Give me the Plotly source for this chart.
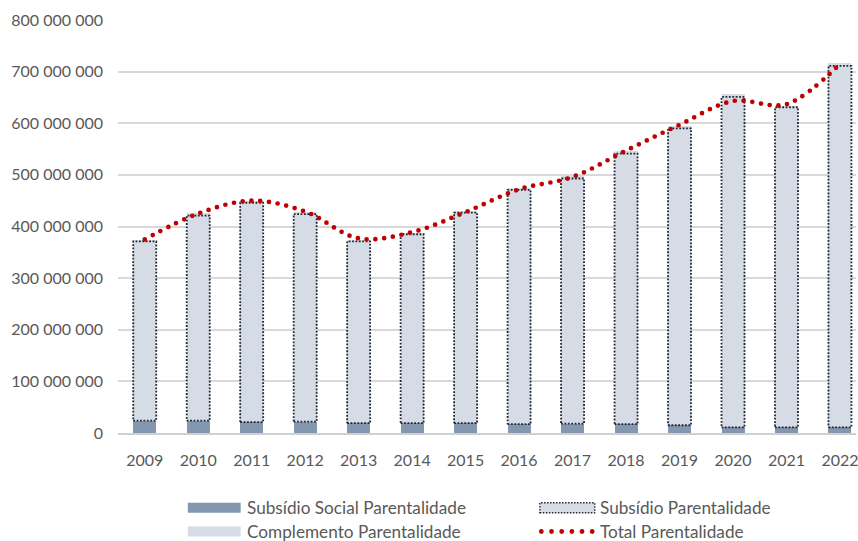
import plotly.graph_objects as go

years = [2009, 2010, 2011, 2012, 2013, 2014, 2015, 2016, 2017, 2018, 2019, 2020, 2021, 2022]
# values in millions of euros
social_m = [24, 24, 21, 22, 19, 19, 19, 17, 18, 17, 15, 11, 11, 11]
subsidio_m = [347, 397, 425, 402, 352, 366, 408, 454, 475, 524, 575, 640, 620, 700]
complemento_m = [2, 5, 4, 4, 3, 3, 4, 4, 5, 6, 5, 6, 3, 5]
total_m = [375, 425, 450, 429, 377, 389, 428, 472, 496, 547, 597, 643, 637, 715]

names = ["Subsídio Social Parentalidade", "Subsídio Parentalidade",
         "Complemento Parentalidade", "Total Parentalidade"]
ytick_vals = [0, 100, 200, 300, 400, 500, 600, 700, 800]

M = 1e6
social = [v * M for v in social_m]
subsidio = [v * M for v in subsidio_m]
complemento = [v * M for v in complemento_m]
total = [v * M for v in total_m]

C_SOCIAL = "#8497B0"
C_LIGHT = "#D6DCE5"
C_BORDER = "#1F2733"
C_RED = "#C00000"
C_TEXT = "#595959"
FONT = "Lato"
BW = 0.43

fig = go.Figure()
fig.add_trace(go.Bar(x=years, y=social, name=names[0], marker=dict(color=C_SOCIAL, line=dict(width=0)), width=BW))
fig.add_trace(go.Bar(x=years, y=subsidio, name=names[1], marker=dict(color=C_LIGHT, line=dict(width=0)), width=BW))
fig.add_trace(go.Bar(x=years, y=complemento, name=names[2], marker=dict(color=C_LIGHT, line=dict(width=0)), width=BW))

# dotted outline of the "Subsídio Parentalidade" segments
ox, oy = [], []
for yr, s, v in zip(years, social, subsidio):
    x0, x1 = yr - BW / 2, yr + BW / 2
    ox += [x0, x1, x1, x0, x0, None]
    oy += [s, s, s + v, s + v, s, None]
fig.add_trace(go.Scatter(x=ox, y=oy, mode="lines", line=dict(color=C_BORDER, width=1.8, dash="1.8px,1.6px"),
                         hoverinfo="skip", showlegend=False))

fig.add_trace(go.Scatter(x=years, y=total, name=names[3], mode="lines",
                         line=dict(color=C_RED, width=4.7, dash="0px,8.8px", shape="spline", smoothing=1.0)))

W, H = 858, 541
L, R, T, B = 118, 0, 20, 108
PW, PH = W - L - R, H - T - B


def px(xp):
    return (xp - L) / PW


def py(yp):
    return (H - B - yp) / PH


shapes = []
annotations = []
# manual legend
ROW1, ROW2 = 507.8, 531.5
shapes.append(dict(type="rect", xref="paper", yref="paper", x0=px(188), x1=px(241), y0=py(ROW1 + 5), y1=py(ROW1 - 5),
                   fillcolor=C_SOCIAL, line=dict(width=0)))
shapes.append(dict(type="rect", xref="paper", yref="paper", x0=px(541), x1=px(596), y0=py(ROW1 + 5), y1=py(ROW1 - 5),
                   fillcolor=C_LIGHT, line=dict(width=1.4, color=C_BORDER, dash="1.5px,1.5px")))
shapes.append(dict(type="rect", xref="paper", yref="paper", x0=px(188), x1=px(241), y0=py(ROW2 + 5), y1=py(ROW2 - 5),
                   fillcolor=C_LIGHT, line=dict(width=0)))
for k in range(6):
    cx = 542.5 + k * 10.2
    shapes.append(dict(type="circle", xref="paper", yref="paper", x0=px(cx - 2.4), x1=px(cx + 2.4),
                       y0=py(ROW2 + 2.4), y1=py(ROW2 - 2.4), fillcolor=C_RED, line=dict(width=0)))
for (tx, ty, txt) in [(245, ROW1, names[0]), (599, ROW1, names[1]), (245, ROW2, names[2]), (599, ROW2, names[3])]:
    annotations.append(dict(xref="paper", yref="paper", x=px(tx), y=py(ty), text=txt, showarrow=False,
                            xanchor="left", yanchor="middle", font=dict(family=FONT, size=17.2, color=C_TEXT)))

fig.update_layout(
    width=W, height=H,
    margin=dict(l=L, r=R, t=T, b=B, pad=0),
    barmode="stack",
    showlegend=False,
    plot_bgcolor="white", paper_bgcolor="white",
    separators=", ",
    font=dict(family=FONT, size=16, color=C_TEXT),
    shapes=shapes, annotations=annotations,
    xaxis=dict(range=[2008.5, 2022.3], tickvals=years, ticktext=[str(y) for y in years],
               showgrid=False, zeroline=False, showline=True, linecolor="#D0D0D0", linewidth=1.5,
               ticks="", ticklabelstandoff=12, ticklabeloverflow="allow",
               tickfont=dict(family=FONT, size=16, color=C_TEXT)),
    yaxis=dict(range=[0, 800 * M], tickvals=[v * M for v in ytick_vals], tickformat=",d",
               showgrid=True, gridcolor="#D9D9D9", gridwidth=1.5, zeroline=False, showline=False,
               ticks="", ticklabelstandoff=14, tickfont=dict(family=FONT, size=16, color=C_TEXT)),
)

post = """
var gd = document.getElementById('{plot_id}');
function roundCaps(){
  var tr = gd.querySelectorAll('.scatterlayer .trace');
  if (tr.length) { var p = tr[tr.length-1].querySelectorAll('.js-line');
    p.forEach(function(e){ e.style.strokeLinecap = 'round'; }); }
}
roundCaps();
gd.on('plotly_afterplot', roundCaps);
"""
fig.write_html("out.html", post_script=post)
